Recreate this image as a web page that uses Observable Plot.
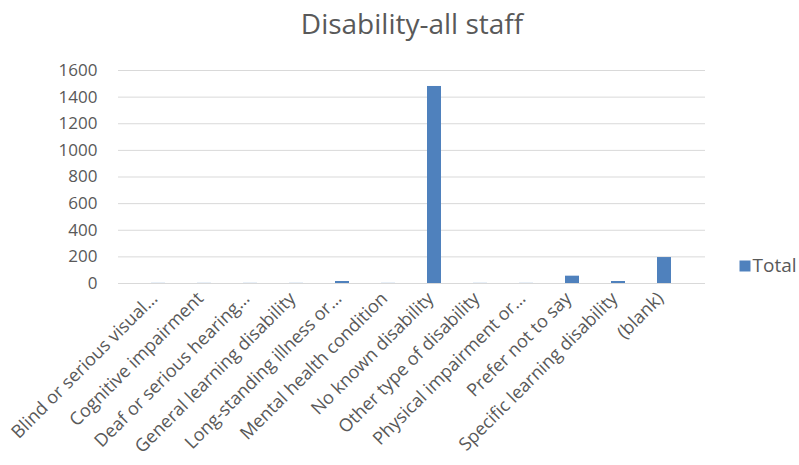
<!DOCTYPE html>
<html>
<head>
<meta charset="utf-8">
<script src="https://cdn.jsdelivr.net/npm/d3@7"></script>
<script src="https://cdn.jsdelivr.net/npm/@observablehq/plot@0.6"></script>
<style>
  html, body { margin: 0; padding: 0; background: #fff; }
  #chart svg { display: block; }
</style>
</head>
<body>
<div id="chart"></div>
<script>
const title = "Disability-all staff";
const seriesName = "Total";
const categories = [
  "Blind or serious visual…",
  "Cognitive impairment",
  "Deaf or serious hearing…",
  "General learning disability",
  "Long-standing illness or…",
  "Mental health condition",
  "No known disability",
  "Other type of disability",
  "Physical impairment or…",
  "Prefer not to say",
  "Specific learning disability",
  "(blank)"
];
const totals = [1, 1, 1, 1, 15, 1, 1480, 1, 1, 55, 15, 195];
const yTicks = [0, 200, 400, 600, 800, 1000, 1200, 1400, 1600];

const data = categories.map((c, i) => ({category: c, total: totals[i]}));
const font = "'Open Sans', sans-serif";
const textColor = "#595959";
const barColor = "#4f81bd";

const chart = Plot.plot({
  width: 799,
  height: 465,
  marginLeft: 118,
  marginRight: 94,
  marginTop: 70,
  marginBottom: 182,
  style: {fontFamily: font, fontSize: "17px", color: textColor, background: "#fff"},
  x: {domain: categories, padding: 0.69, label: null},
  y: {domain: [0, 1600], ticks: yTicks, label: null},
  marks: [
    Plot.gridY(yTicks, {stroke: "#d9d9d9", strokeOpacity: 1, strokeWidth: 1}),
    Plot.axisY(yTicks, {tickSize: 0, tickPadding: 21, fontSize: 17, fill: textColor, label: null, tickFormat: d => String(d)}),
    Plot.axisX({tickSize: 0, tickPadding: 12, tickRotate: -45, fontSize: 18, fill: textColor, label: null, dx: -4}),
    Plot.barY(data, {x: "category", y: "total", fill: barColor}),
    Plot.text([title], {frameAnchor: "top", lineAnchor: "middle", dy: -45, fontSize: 28, fill: textColor}),
    Plot.dot([seriesName], {frameAnchor: "right", dx: 39.5, dy: 89, symbol: "square", r: 6.2, fill: barColor, stroke: null}),
    Plot.text([seriesName], {frameAnchor: "right", dx: 47, dy: 89, textAnchor: "start", fontSize: 19, fill: textColor})
  ]
});
document.getElementById("chart").appendChild(chart);
</script>
</body>
</html>
